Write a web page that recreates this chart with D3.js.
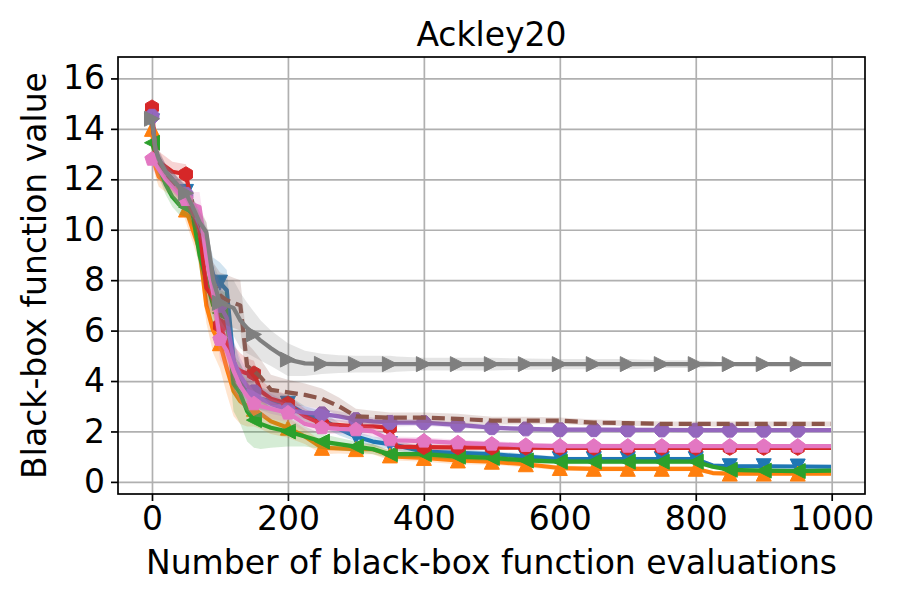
<!DOCTYPE html>
<html>
<head>
<meta charset="utf-8">
<script src="https://cdn.jsdelivr.net/npm/d3@7"></script>
<style>
  body { margin: 0; background: #fff; }
  text { font-family: "DejaVu Sans", sans-serif; fill: #000; }
</style>
</head>
<body>
<div id="chart-area"></div>
<script>
// sampled evaluation counts (x positions)
const evals = [0, 5, 10, 20, 30, 40, 50, 60, 70, 80, 90, 100, 110, 120, 130, 140, 150, 160, 175, 200,
  225, 250, 275, 300, 325, 350, 360, 400, 450, 500, 550, 600, 650, 700, 750, 800, 825, 850, 900, 950, 999];

const xTicks = [0, 200, 400, 600, 800, 1000];
const yTicks = [0, 2, 4, 6, 8, 10, 12, 14, 16];

// mean curves
const blueVals = [14.3, 13.1, 12.7, 12.3, 12.0, 11.7, 11.5, 10.8, 10.2, 9.4, 8.2, 7.9, 7.6, 4.8, 4.0, 3.6, 3.4, 3.3, 3.2, 3.1,
  2.7, 2.5, 2.1, 1.8, 1.6, 1.5, 1.45, 1.2, 1.15, 1.1, 1.0, 0.9, 0.9, 0.9, 0.9, 0.9, 0.65, 0.62, 0.62, 0.61, 0.6];
const orangeVals = [14.0, 12.5, 12.1, 11.9, 11.7, 11.5, 10.8, 10.0, 9.2, 7.0, 6.0, 5.5, 4.5, 3.6, 3.2, 3.0, 2.9, 2.7, 2.4, 2.15,
  1.8, 1.35, 1.33, 1.3, 1.3, 1.05, 1.0, 0.95, 0.85, 0.8, 0.7, 0.55, 0.52, 0.52, 0.52, 0.52, 0.35, 0.33, 0.33, 0.33, 0.33];
const greenVals = [13.45, 13.0, 12.5, 11.8, 11.3, 11.0, 10.9, 10.6, 9.0, 8.0, 7.0, 6.7, 6.5, 3.9, 3.5, 2.8, 2.45, 2.3, 2.15, 2.0,
  1.8, 1.6, 1.5, 1.4, 1.3, 1.1, 1.1, 1.1, 1.0, 0.95, 0.85, 0.8, 0.8, 0.8, 0.8, 0.8, 0.6, 0.48, 0.45, 0.43, 0.45];
const redVals = [14.85, 13.0, 12.7, 12.5, 12.3, 12.25, 12.2, 10.8, 10.0, 7.7, 7.3, 6.2, 5.5, 4.6, 4.4, 4.3, 4.3, 3.6, 3.3, 3.1,
  2.6, 2.3, 2.25, 2.2, 2.2, 2.15, 1.4, 1.38, 1.37, 1.36, 1.36, 1.35, 1.35, 1.35, 1.35, 1.35, 1.35, 1.35, 1.35, 1.35, 1.35];
const purpleVals = [14.5, 13.2, 12.8, 12.3, 12.0, 11.7, 11.4, 10.8, 10.2, 9.5, 7.8, 7.0, 6.5, 4.8, 4.2, 3.8, 3.57, 3.3, 3.1, 2.85,
  2.75, 2.7, 2.6, 2.47, 2.4, 2.36, 2.35, 2.35, 2.26, 2.15, 2.1, 2.07, 2.07, 2.06, 2.06, 2.05, 2.05, 2.05, 2.05, 2.05, 2.05];
const brownVals = [14.3, 13.2, 12.8, 12.2, 11.9, 11.6, 11.3, 10.7, 10.3, 9.6, 7.9, 7.4, 7.2, 7.1, 7.0, 4.6, 4.4, 4.15, 3.65, 3.55,
  3.45, 3.3, 3.0, 2.6, 2.57, 2.55, 2.55, 2.55, 2.5, 2.43, 2.43, 2.43, 2.35, 2.33, 2.3, 2.3, 2.3, 2.3, 2.3, 2.3, 2.3];
const pinkVals = [12.8, 12.6, 12.4, 12.0, 11.7, 11.4, 11.2, 11.0, 10.9, 8.9, 7.5, 5.65, 5.2, 4.4, 3.8, 3.4, 3.1, 3.0, 2.9, 2.73,
  2.3, 2.15, 2.1, 2.07, 2.0, 1.67, 1.65, 1.62, 1.55, 1.5, 1.45, 1.42, 1.42, 1.42, 1.42, 1.42, 1.42, 1.42, 1.42, 1.42, 1.42];
const grayVals = [14.4, 13.2, 12.8, 12.3, 12.0, 11.7, 11.45, 10.9, 10.3, 9.9, 8.0, 7.1, 7.0, 6.9, 6.4, 6.1, 5.85, 5.6, 5.3, 4.85,
  4.7, 4.68, 4.67, 4.67, 4.67, 4.67, 4.67, 4.67, 4.67, 4.67, 4.67, 4.67, 4.67, 4.67, 4.67, 4.67, 4.67, 4.67, 4.67, 4.67, 4.67];

// spread (half width of shaded band)
const blueStd = [0.3, 0.3, 0.3, 0.3, 0.3, 0.3, 0.3, 0.4, 0.5, 0.6, 0.7, 0.8, 0.8, 0.8, 0.7, 0.6, 0.5, 0.45, 0.4, 0.35,
  0.3, 0.3, 0.25, 0.2, 0.2, 0.2, 0.2, 0.15, 0.15, 0.12, 0.12, 0.1, 0.1, 0.1, 0.1, 0.1, 0.08, 0.08, 0.08, 0.08, 0.08];
const orangeStd = [0.3, 0.4, 0.4, 0.4, 0.4, 0.4, 0.5, 0.5, 0.6, 0.7, 0.9, 1.0, 1.0, 1.0, 0.9, 0.8, 0.7, 0.6, 0.5, 0.4,
  0.3, 0.25, 0.2, 0.2, 0.2, 0.2, 0.15, 0.15, 0.15, 0.12, 0.12, 0.1, 0.1, 0.1, 0.1, 0.1, 0.08, 0.08, 0.08, 0.08, 0.08];
const greenStd = [0.3, 0.4, 0.4, 0.4, 0.4, 0.4, 0.4, 0.5, 0.6, 0.7, 0.8, 0.9, 1.0, 1.1, 1.2, 1.2, 1.1, 1.0, 0.8, 0.6,
  0.4, 0.3, 0.25, 0.2, 0.2, 0.15, 0.15, 0.15, 0.12, 0.12, 0.1, 0.1, 0.1, 0.1, 0.1, 0.1, 0.08, 0.08, 0.08, 0.08, 0.08];
const redStd = [0.4, 0.4, 0.4, 0.4, 0.4, 0.4, 0.4, 0.5, 0.6, 0.7, 0.7, 0.8, 0.8, 0.8, 0.7, 0.6, 0.5, 0.45, 0.4, 0.35,
  0.3, 0.25, 0.2, 0.2, 0.2, 0.2, 0.15, 0.12, 0.12, 0.1, 0.1, 0.1, 0.08, 0.08, 0.08, 0.08, 0.08, 0.08, 0.08, 0.08, 0.08];
const purpleStd = [0.3, 0.3, 0.3, 0.3, 0.3, 0.3, 0.3, 0.4, 0.5, 0.6, 0.7, 0.8, 0.8, 0.8, 0.7, 0.6, 0.5, 0.45, 0.4, 0.3,
  0.25, 0.2, 0.2, 0.2, 0.15, 0.15, 0.15, 0.12, 0.12, 0.1, 0.1, 0.1, 0.1, 0.1, 0.08, 0.08, 0.08, 0.08, 0.08, 0.08, 0.08];
const brownStd = [0.4, 0.4, 0.4, 0.4, 0.4, 0.4, 0.4, 0.5, 0.6, 0.7, 0.8, 0.9, 1.0, 1.0, 1.0, 0.9, 0.8, 0.7, 0.6, 0.5,
  0.45, 0.4, 0.35, 0.3, 0.25, 0.2, 0.2, 0.2, 0.2, 0.15, 0.15, 0.12, 0.12, 0.1, 0.1, 0.1, 0.1, 0.1, 0.1, 0.1, 0.1];
const pinkStd = [0.4, 0.4, 0.4, 0.4, 0.4, 0.5, 0.5, 0.5, 0.6, 0.7, 0.8, 0.8, 0.8, 0.8, 0.7, 0.6, 0.5, 0.45, 0.4, 0.35,
  0.3, 0.25, 0.2, 0.2, 0.2, 0.15, 0.15, 0.15, 0.12, 0.12, 0.1, 0.1, 0.1, 0.1, 0.08, 0.08, 0.08, 0.08, 0.08, 0.08, 0.08];
const grayStd = [0.3, 0.3, 0.3, 0.3, 0.3, 0.3, 0.3, 0.4, 0.4, 0.4, 0.7, 0.9, 1.0, 1.1, 1.1, 1.0, 0.9, 0.8, 0.7, 0.65,
  0.5, 0.4, 0.35, 0.33, 0.33, 0.33, 0.3, 0.25, 0.25, 0.25, 0.22, 0.2, 0.2, 0.2, 0.15, 0.15, 0.1, 0.05, 0.05, 0.05, 0.05];

const margin = { top: 57, right: 35, bottom: 106, left: 118 };
const width = 900 - margin.left - margin.right;
const height = 600 - margin.top - margin.bottom;

const series = [
  { vals: blueVals, std: blueStd, color: "#1f77b4", marker: "v" },
  { vals: orangeVals, std: orangeStd, color: "#ff7f0e", marker: "^" },
  { vals: greenVals, std: greenStd, color: "#2ca02c", marker: "<" },
  { vals: redVals, std: redStd, color: "#d62728", marker: "h" },
  { vals: purpleVals, std: purpleStd, color: "#9467bd", marker: "8" },
  { vals: brownVals, std: brownStd, color: "#8c564b", marker: null, dash: "13,6" },
  { vals: pinkVals, std: pinkStd, color: "#e377c2", marker: "p" },
  { vals: grayVals, std: grayStd, color: "#7f7f7f", marker: ">" }
];

const svg = d3.select("#chart-area")
  .append("svg")
    .attr("width", 900)
    .attr("height", 600);

const chart = svg.append("g")
    .attr("transform", `translate(${margin.left},${margin.top})`);

const xScale = d3.scaleLinear()
  .domain([-50, 1049])
  .range([0, width]);

const yScale = d3.scaleLinear()
  .domain([-0.48, 16.85])
  .range([height, 0]);

// grid
chart.append("g")
    .attr("transform", `translate(0,${height})`)
    .call(d3.axisBottom(xScale).tickValues(xTicks).tickSize(-height).tickFormat(""))
    .call(g => g.select(".domain").remove())
    .selectAll("line").attr("stroke", "#b0b0b0").attr("stroke-width", 1.7);

chart.append("g")
    .call(d3.axisLeft(yScale).tickValues(yTicks).tickSize(-width).tickFormat(""))
    .call(g => g.select(".domain").remove())
    .selectAll("line").attr("stroke", "#b0b0b0").attr("stroke-width", 1.7);

chart.append("clipPath").attr("id", "plot-clip")
  .append("rect").attr("width", width).attr("height", height);

const plot = chart.append("g").attr("clip-path", "url(#plot-clip)");

const area = d3.area()
    .x((d, i) => xScale(evals[i]))
    .y0(d => yScale(d[0] - d[1]))
    .y1(d => yScale(d[0] + d[1]));

const line = d3.line()
    .x((d, i) => xScale(evals[i]))
    .y(d => yScale(d));

function markerPath(type, r) {
  let pts;
  if (type === "v") pts = [[-r, -r], [r, -r], [0, r]];
  else if (type === "^") pts = [[0, -r], [-r, r], [r, r]];
  else if (type === "<") pts = [[-r, 0], [r, -r], [r, r]];
  else if (type === ">") pts = [[r, 0], [-r, -r], [-r, r]];
  else {
    const n = type === "h" ? 6 : type === "p" ? 5 : 8;
    const start = type === "8" ? 22.5 : -90;
    pts = d3.range(n).map(k => {
      const a = (start + k * 360 / n) * Math.PI / 180;
      return [r * Math.cos(a), r * Math.sin(a)];
    });
  }
  return "M" + pts.map(p => p.join(",")).join("L") + "Z";
}

series.forEach(s => {
  plot.append("path")
      .datum(s.vals.map((v, i) => [v, s.std[i]]))
      .attr("d", area)
      .attr("fill", s.color)
      .attr("fill-opacity", 0.2);

  plot.append("path")
      .datum(s.vals)
      .attr("d", line)
      .attr("fill", "none")
      .attr("stroke", s.color)
      .attr("stroke-width", 4.2)
      .attr("stroke-linejoin", "round")
      .attr("stroke-dasharray", s.dash || null);

  if (s.marker) {
    const idx = evals.map((e, i) => i).filter(i => evals[i] % 50 === 0);
    plot.selectAll(null)
      .data(idx)
      .enter()
      .append("path")
        .attr("d", markerPath(s.marker, 7.5))
        .attr("transform", i => `translate(${xScale(evals[i])},${yScale(s.vals[i])})`)
        .attr("fill", s.color)
        .attr("stroke", s.color)
        .attr("stroke-width", 1);
  }
});

// spines
chart.append("rect")
    .attr("width", width)
    .attr("height", height)
    .attr("fill", "none")
    .attr("stroke", "#000")
    .attr("stroke-width", 1.7);

// axes
chart.append("g")
    .attr("transform", `translate(0,${height})`)
    .call(d3.axisBottom(xScale).tickValues(xTicks).tickSize(7).tickPadding(6).tickFormat(d3.format("d")))
    .call(g => g.select(".domain").remove())
    .call(g => g.selectAll("line").attr("stroke-width", 1.7))
    .selectAll("text")
      .style("font-size", "33px");

chart.append("g")
    .call(d3.axisLeft(yScale).tickValues(yTicks).tickSize(7).tickPadding(6))
    .call(g => g.select(".domain").remove())
    .call(g => g.selectAll("line").attr("stroke-width", 1.7))
    .selectAll("text")
      .style("font-size", "33px");

chart.append("text")
    .attr("x", width / 2)
    .attr("y", 46 - margin.top)
    .attr("text-anchor", "middle")
    .style("font-size", "33px")
    .text("Ackley20");

chart.append("text")
    .attr("x", width / 2)
    .attr("y", 574 - margin.top)
    .attr("text-anchor", "middle")
    .style("font-size", "33px")
    .text("Number of black-box function evaluations");

chart.append("text")
    .attr("transform", "rotate(-90)")
    .attr("x", -height / 2)
    .attr("y", 46 - margin.left)
    .attr("text-anchor", "middle")
    .style("font-size", "33px")
    .text("Black-box function value");
</script>
</body>
</html>
